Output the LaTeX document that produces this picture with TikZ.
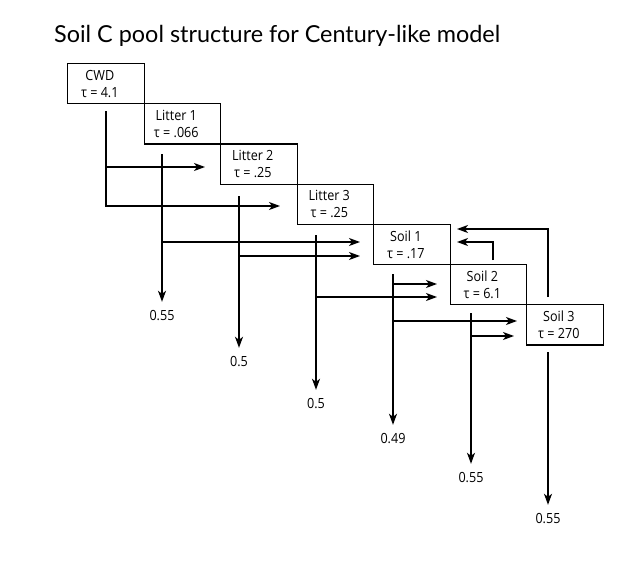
\documentclass[tikz,border=0pt]{standalone}
\usepackage{fontspec}
\setmainfont[FakeStretch=0.9]{Open Sans}
\newfontfamily\titlefont{Lato}
\usetikzlibrary{arrows.meta}

\begin{document}
\begin{tikzpicture}
 [ x=1pt, y=-1pt
 , pool/.style={draw, line width=1.1pt, minimum width=76.5pt, minimum height=40.2pt, inner sep=0pt, anchor=north west}
 , pooltext/.style={xshift=-6pt, align=center, font=\fontsize{14}{17}\selectfont}
 , flow/.style={line width=1.3pt, -{Stealth[length=11pt, width=8pt, inset=3pt]}}
 , rate/.style={inner xsep=1pt, inner ysep=8pt, text height=10pt, text depth=0pt, font=\fontsize{14}{16}\selectfont}
 ]
  \useasboundingbox (0,0) rectangle (641,573);
  \node [anchor=base west, inner sep=0pt, font=\titlefont\fontsize{23.4}{28}\selectfont] (title) at (54,42)
    {Soil C pool structure for Century-like model};

  % pools
  \node [pool, label={[pooltext]center:{CWD\\τ = 4.1}}] (cwd) at (67,63) {};
  \node [pool, label={[pooltext]center:{Litter 1\\τ = .066}}] (lit1) at (143.5,103.2) {};
  \node [pool, label={[pooltext]center:{Litter 2\\τ = .25}}] (lit2) at (220,143.4) {};
  \node [pool, label={[pooltext]center:{Litter 3\\τ = .25}}] (lit3) at (296.5,183.6) {};
  \node [pool, label={[pooltext]center:{Soil 1\\τ = .17}}] (soil1) at (373,223.8) {};
  \node [pool, label={[pooltext]center:{Soil 2\\τ = 6.1}}] (soil2) at (449.5,264) {};
  \node [pool, label={[pooltext]center:{Soil 3\\τ = 270}}] (soil3) at (526,304.2) {};

  % respired fractions
  \node [rate] (k1) at (162,315) {0.55};
  \node [rate] (k2) at (239,361) {0.5};
  \node [rate] (k3) at (316,403) {0.5};
  \node [rate] (k4) at (393,438) {0.49};
  \node [rate] (k5) at (471,477) {0.55};
  \node [rate] (k6) at (548,518) {0.55};

  % where the flows leave the pools
  \coordinate (cwdout) at (106,111);
  \coordinate (lit1out) at (162,154);
  \coordinate (lit2out) at (239,196);
  \coordinate (lit3out) at (316,235);
  \coordinate (soil1out) at (393,274);
  \coordinate (soil2out) at (471,313);
  \coordinate (soil3out) at (548,352);
  \coordinate (soil2up) at (493,260);
  \coordinate (soil3up) at (548,297);

  % where the flows end
  \coordinate (cwd2lit2) at (205,167);
  \coordinate (cwd2lit3) at (280,206);
  \coordinate (lit12soil1) at (360,242);
  \coordinate (lit22soil1) at (360,256);
  \coordinate (lit32soil2) at (437,297);
  \coordinate (soil12soil2) at (437,284);
  \coordinate (soil12soil3) at (517,321);
  \coordinate (soil22soil3) at (514,336);
  \coordinate (soil22soil1) at (457,242);
  \coordinate (soil32soil1) at (457,229);

  \draw [flow] (cwdout) |- (cwd2lit3);
  \draw [flow] (cwd2lit2 -| cwdout) -- (cwd2lit2);

  \draw [flow] (lit1out) -- (k1.north);
  \draw [flow] (lit12soil1 -| lit1out) -- (lit12soil1);

  \draw [flow] (lit2out) -- (k2.north);
  \draw [flow] (lit22soil1 -| lit2out) -- (lit22soil1);

  \draw [flow] (lit3out) -- (k3.north);
  \draw [flow] (lit32soil2 -| lit3out) -- (lit32soil2);

  \draw [flow] (soil1out) -- (k4.north);
  \draw [flow] (soil12soil2 -| soil1out) -- (soil12soil2);
  \draw [flow] (soil12soil3 -| soil1out) -- (soil12soil3);

  \draw [flow] (soil2out) -- (k5.north);
  \draw [flow] (soil22soil3 -| soil2out) -- (soil22soil3);
  \draw [flow] (soil2up) |- (soil22soil1);

  \draw [flow] (soil3out) -- (k6.north);
  \draw [flow] (soil3up) |- (soil32soil1);
\end{tikzpicture}
\end{document}
